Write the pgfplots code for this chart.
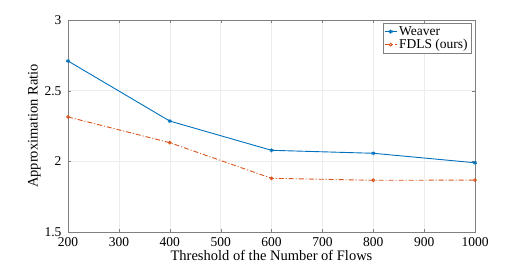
\documentclass[border=0pt]{standalone}
\usepackage{pgfplots}
\pgfplotsset{compat=1.18}
\usepackage{fontspec}
\setmainfont{Liberation Serif}
\definecolor{mblue}{RGB}{0,114,189}
\definecolor{morange}{RGB}{217,83,25}
\definecolor{axgrey}{RGB}{128,128,128}
\begin{document}
\begin{tikzpicture}[x=1pt,y=1pt]
\begin{axis}[name=ax,
  scale only axis, width=407pt, height=212pt,
  xmin=200, xmax=1000, ymin=1.5, ymax=3,
  xtick={200,300,...,1000}, ytick={1.5,2,2.5,3},
  yticklabels={1.5,2,2.5,3},
  /pgf/number format/assume math mode=true,
  /pgf/number format/1000 sep={},
  xticklabel style={font=\fontsize{13.5}{14}\selectfont, yshift=-1.5pt},
  yticklabel style={font=\fontsize{13.5}{14}\selectfont, xshift=-3pt},
  tick align=inside, major tick length=3pt,
  axis line style={axgrey, line width=0.6pt},
  tick style={axgrey},
  grid=major, major grid style={gray!15, line width=0.5pt},
  xlabel={Threshold of the Number of Flows},
  ylabel={Approximation Ratio},
  label style={font=\fontsize{14.5}{16}\selectfont},
  xlabel style={yshift=3pt},
  ylabel style={yshift=-3pt},
  legend style={at={(0.99,0.985)}, anchor=north east, draw=axgrey, font=\fontsize{13.5}{14}\selectfont,
    inner sep=1pt, row sep=-1.5pt, cells={anchor=west}},
  legend cell align=left,
  legend image code/.code={\draw[mark repeat=2,mark phase=2] plot coordinates {(0pt,0pt) (6pt,0pt) (12pt,0pt)};},
]
\addplot[mblue, line width=0.9pt, mark=asterisk, mark size=2pt, mark options={solid}]
  coordinates {(200,2.71) (400,2.285) (600,2.078) (800,2.057) (1000,1.99)};
\addlegendentry{Weaver}
\addplot[morange, line width=0.9pt, dash pattern=on 5pt off 2pt on 1pt off 2pt, mark=o, mark size=1.4pt, mark options={solid}]
  coordinates {(200,2.314) (400,2.132) (600,1.88) (800,1.866) (1000,1.867)};
\addlegendentry{FDLS (ours)}
\end{axis}
\path ([shift={(-68pt,-39pt)}]ax.south west) rectangle ([shift={(51pt,20pt)}]ax.north east);
\end{tikzpicture}
\end{document}
